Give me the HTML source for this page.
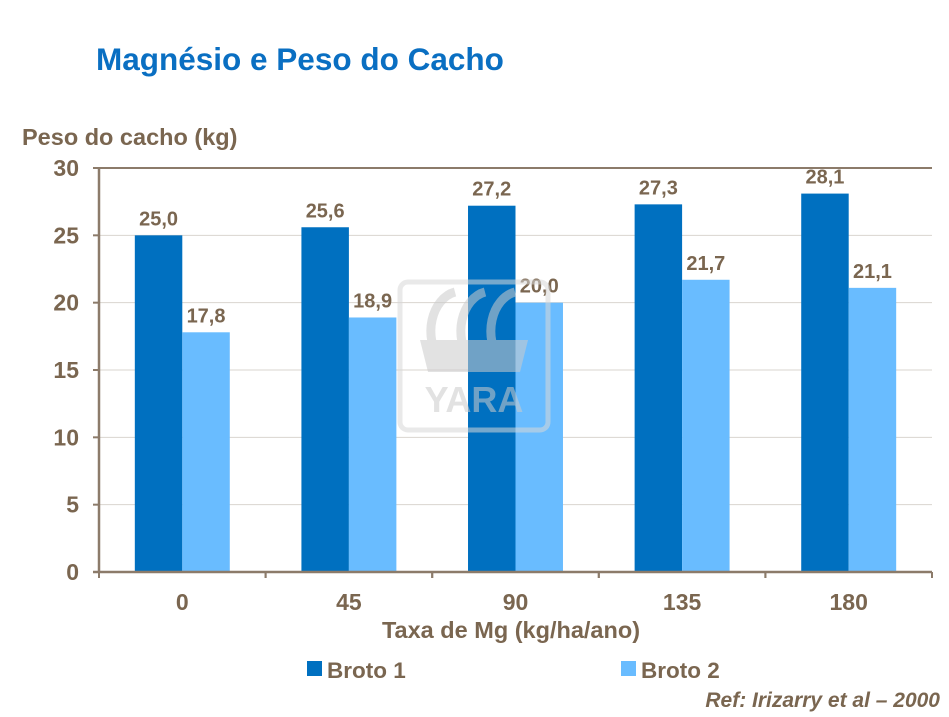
<!DOCTYPE html>
<html><head><meta charset="utf-8"><style>
body{margin:0;background:#fff;width:949px;height:712px;overflow:hidden;font-family:"Liberation Sans",sans-serif}
</style></head><body>
<svg width="949" height="712" xmlns="http://www.w3.org/2000/svg" id="chart" font-family="Liberation Sans, sans-serif" font-weight="bold">
<text x="96" y="70" font-size="31.5" fill="#0a6fc2">Magnésio e Peso do Cacho</text>
<text x="22" y="145" font-size="23.5" fill="#7a6650">Peso do cacho (kg)</text>
<g id="grid"></g>
<g id="bars"></g>
<g id="wm" opacity="0.55">
<rect x="400" y="282" width="148" height="148" rx="8" fill="none" stroke="#d8d8d8" stroke-width="5"/>
<path d="M440 360 a30 40 0 0 1 15 -68" fill="none" stroke="#ccc" stroke-width="9"/>
<path d="M470 360 a30 40 0 0 1 15 -68" fill="none" stroke="#ccc" stroke-width="9"/>
<path d="M500 360 a30 40 0 0 1 15 -68" fill="none" stroke="#ccc" stroke-width="9"/>
<path d="M420 340 L528 340 L520 372 L428 372 Z" fill="#ccc"/>
<text x="474" y="412" font-size="36" fill="#ccc" text-anchor="middle">YARA</text>
</g>
<g id="axes"></g>
<text x="511" y="638" font-size="23.5" fill="#7a6650" text-anchor="middle">Taxa de Mg (kg/ha/ano)</text>
<rect x="307" y="661" width="15" height="15" fill="#0070c0"/>
<text x="327" y="678" font-size="22.5" fill="#7a6650">Broto 1</text>
<rect x="621" y="661" width="15" height="15" fill="#69bcff"/>
<text x="641" y="678" font-size="22.5" fill="#7a6650">Broto 2</text>
<text x="940" y="707" font-size="21" fill="#7a6650" font-style="italic" text-anchor="end">Ref: Irizarry et al – 2000</text>
</svg>
<script>
const categories=["0","45","90","135","180"];
const broto1=[25.0,25.6,27.2,27.3,28.1];
const broto2=[17.8,18.9,20.0,21.7,21.1];
const yTicks=[0,5,10,15,20,25,30];
const NS="http://www.w3.org/2000/svg";
const X0=99,X1=932,Y0=572,Y1=168,YMAX=30;
const step=(X1-X0)/categories.length;
const y=v=>Y0-(v/YMAX)*(Y0-Y1);
const cx=i=>X0+step*(i+0.5);
const bw=step*0.285;
function mk(p,tag,a,txt){const e=document.createElementNS(NS,tag);for(const k in a)e.setAttribute(k,a[k]);if(txt!=null)e.textContent=txt;document.getElementById(p).appendChild(e);return e;}
yTicks.forEach(t=>{
  if(t>0){const g=mk('grid','line',{x1:X0,x2:X1,y1:y(t),y2:y(t),stroke:t===30?'#8c7b6a':'#d9d4cf','stroke-width':t===30?2:1});
  
  }
  const tk=mk('axes','line',{x1:X0-6,x2:X0,y1:y(t),y2:y(t),stroke:'#8c7b6a','stroke-width':2});
  
  
  const l=mk('axes','text',{x:X0-20,y:y(t)+8,'font-size':23,fill:'#7a6650','text-anchor':'end'},String(t));
  
  
});
const ya=mk('axes','line',{x1:X0,x2:X0,y1:Y1,y2:Y0,stroke:'#8c7b6a','stroke-width':2.5});


const xa=mk('axes','line',{x1:X0-6,x2:X1,y1:Y0,y2:Y0,stroke:'#8c7b6a','stroke-width':2.5});


categories.forEach((c,i)=>{
  for(let k=0;k<=1;k++){const xx=X0+step*(i+k);const t=mk('axes','line',{x1:xx,x2:xx,y1:Y0,y2:Y0+6,stroke:'#8c7b6a','stroke-width':2});
  
  }
  const l=mk('axes','text',{x:cx(i),y:Y0+38,'font-size':23,fill:'#7a6650','text-anchor':'middle'},c);
  
  
  [[broto1,'#0070c0',-1,'broto-1'],[broto2,'#69bcff',0,'broto-2']].forEach(([arr,col,off,nm])=>{
    const x=cx(i)+off*bw;
    const r=mk('bars','rect',{x:x,y:y(arr[i]),width:bw,height:Y0-y(arr[i]),fill:col});
    
    
    const v=mk('bars','text',{x:x+bw/2,y:y(arr[i])-10,'font-size':20,fill:'#7a6650','text-anchor':'middle'},arr[i].toFixed(1).replace('.',','));
    
    
  });
});
</script>
</body></html>
